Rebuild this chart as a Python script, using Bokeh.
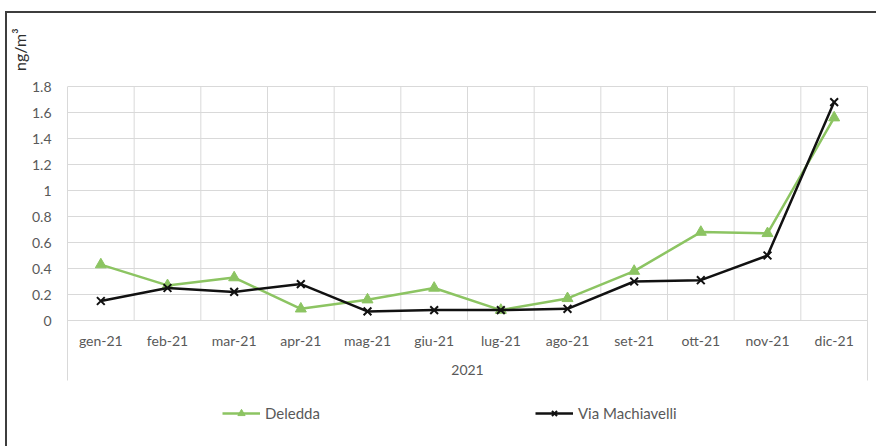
from bokeh.plotting import figure
from bokeh.models import (FactorRange, Range1d, LinearAxis, FixedTicker, PrintfTickFormatter,
                          Legend, LegendItem, ColumnDataSource, Title)
from bokeh.transform import dodge
from bokeh.core.properties import value
from bokeh.embed import file_html
from bokeh.resources import INLINE

# ---- data ----
months = ["gen-21", "feb-21", "mar-21", "apr-21", "mag-21", "giu-21",
          "lug-21", "ago-21", "set-21", "ott-21", "nov-21", "dic-21"]
deledda = [0.43, 0.27, 0.33, 0.09, 0.16, 0.25, 0.08, 0.17, 0.38, 0.68, 0.67, 1.56]
machiavelli = [0.15, 0.25, 0.22, 0.28, 0.07, 0.08, 0.08, 0.09, 0.30, 0.31, 0.50, 1.68]
y_ticks = [0, 0.2, 0.4, 0.6, 0.8, 1.0, 1.2, 1.4, 1.6, 1.8]
year_label = "2021"
series_names = ["Deledda", "Via Machiavelli"]
y_title = "ng/m³"

GREEN = "#8cc462"
BLACK = "#111111"
GRID = "#d9d9d9"
TXT = "#595959"
FONT = "Lato"

PX = 1 / 130.0                 # one pixel in data units (0.2 per 26 px)
y_top = 305 * PX               # frame reaches up to just under the border
y_bottom = -128 * PX           # frame reaches down to the bottom of the page
y_axis_floor = -60 * PX        # outer lines of the category axis stop here

p = figure(width=871, height=435,
           x_range=FactorRange(*months, range_padding=0),
           y_range=Range1d(y_bottom, y_top),
           x_axis_location=None,
           output_backend="svg", toolbar_location=None,
           min_border_left=60, min_border_right=11,
           min_border_top=2, min_border_bottom=0,
           outline_line_color=None, background_fill_color="white",
           border_fill_color="white")
p.margin = (11, 0, 0, 5)
p.styles = {"border-top": "2px solid #3d3d3d", "border-left": "2px solid #3d3d3d"}

# y axis
yax = p.yaxis[0]
yax.ticker = FixedTicker(ticks=y_ticks)
yax.bounds = (y_axis_floor, y_ticks[-1])
yax.formatter = PrintfTickFormatter(format="%g")
yax.axis_line_color = GRID
yax.major_tick_line_color = None
yax.minor_tick_line_color = None
yax.major_tick_out = 0
yax.major_tick_in = 0
yax.major_label_standoff = 16
yax.major_label_text_font = FONT
yax.major_label_text_font_size = "14px"
yax.major_label_text_color = TXT

# y title at the top-left corner
ttl = Title(text=y_title, align="right", offset=13, standoff=0,
            text_font=FONT, text_font_size="16px", text_font_style="normal",
            text_color="#2e2e2e")
p.add_layout(ttl, "left")

p.ygrid.ticker = FixedTicker(ticks=y_ticks)
p.ygrid.grid_line_color = GRID
p.xgrid.grid_line_color = None

# right boundary line
rax = LinearAxis(ticker=FixedTicker(ticks=[]), bounds=(y_axis_floor, y_ticks[-1]),
                 axis_line_color=GRID,
                 major_tick_out=0, major_tick_in=0, minor_tick_out=0, minor_tick_in=0,
                 major_label_standoff=0)
p.add_layout(rax, "right")

# inner vertical gridlines between categories
gsrc = ColumnDataSource(dict(x=months[1:], y0=[0] * 11, y1=[y_ticks[-1]] * 11))
p.segment(x0=dodge("x", -0.5, range=p.x_range), x1=dodge("x", -0.5, range=p.x_range),
          y0="y0", y1="y1", source=gsrc, line_color=GRID, line_width=1)

# category labels
lsrc = ColumnDataSource(dict(x=months, y=[-20 * PX] * len(months), t=months))
p.text(x="x", y="y", text="t", source=lsrc, text_align="center", text_baseline="middle",
       text_font=value(FONT), text_font_size="14px", text_color=TXT)
ysrc = ColumnDataSource(dict(x=[months[6]], y=[-49 * PX], t=[year_label]))
p.text(x=dodge("x", -0.5, range=p.x_range), y="y", text="t", source=ysrc,
       text_align="center", text_baseline="middle",
       text_font=value(FONT), text_font_size="14px", text_color=TXT)

# series
src = ColumnDataSource(dict(m=months, d=deledda, v=machiavelli))
l1 = p.line("m", "d", source=src, line_color=GREEN, line_width=2.5)
s1 = p.scatter("m", "d", source=src, marker="triangle", size=11,
               fill_color=GREEN, line_color=GREEN)
l2 = p.line("m", "v", source=src, line_color=BLACK, line_width=2.5)
s2 = p.scatter("m", "v", source=src, marker="x", size=11,
               line_color=BLACK, line_width=2)

legend = Legend(items=[LegendItem(label=series_names[0], renderers=[l1, s1]),
                       LegendItem(label=series_names[1], renderers=[l2, s2])],
                orientation="horizontal", location=(155, 26),
                glyph_width=38, glyph_height=18, label_standoff=5, spacing=215,
                padding=0, margin=0, border_line_color=None, background_fill_alpha=0,
                label_text_font=FONT, label_text_font_size="15px", label_text_color=TXT)
p.add_layout(legend, "center")

open("out.html", "w").write(file_html(p, INLINE))
